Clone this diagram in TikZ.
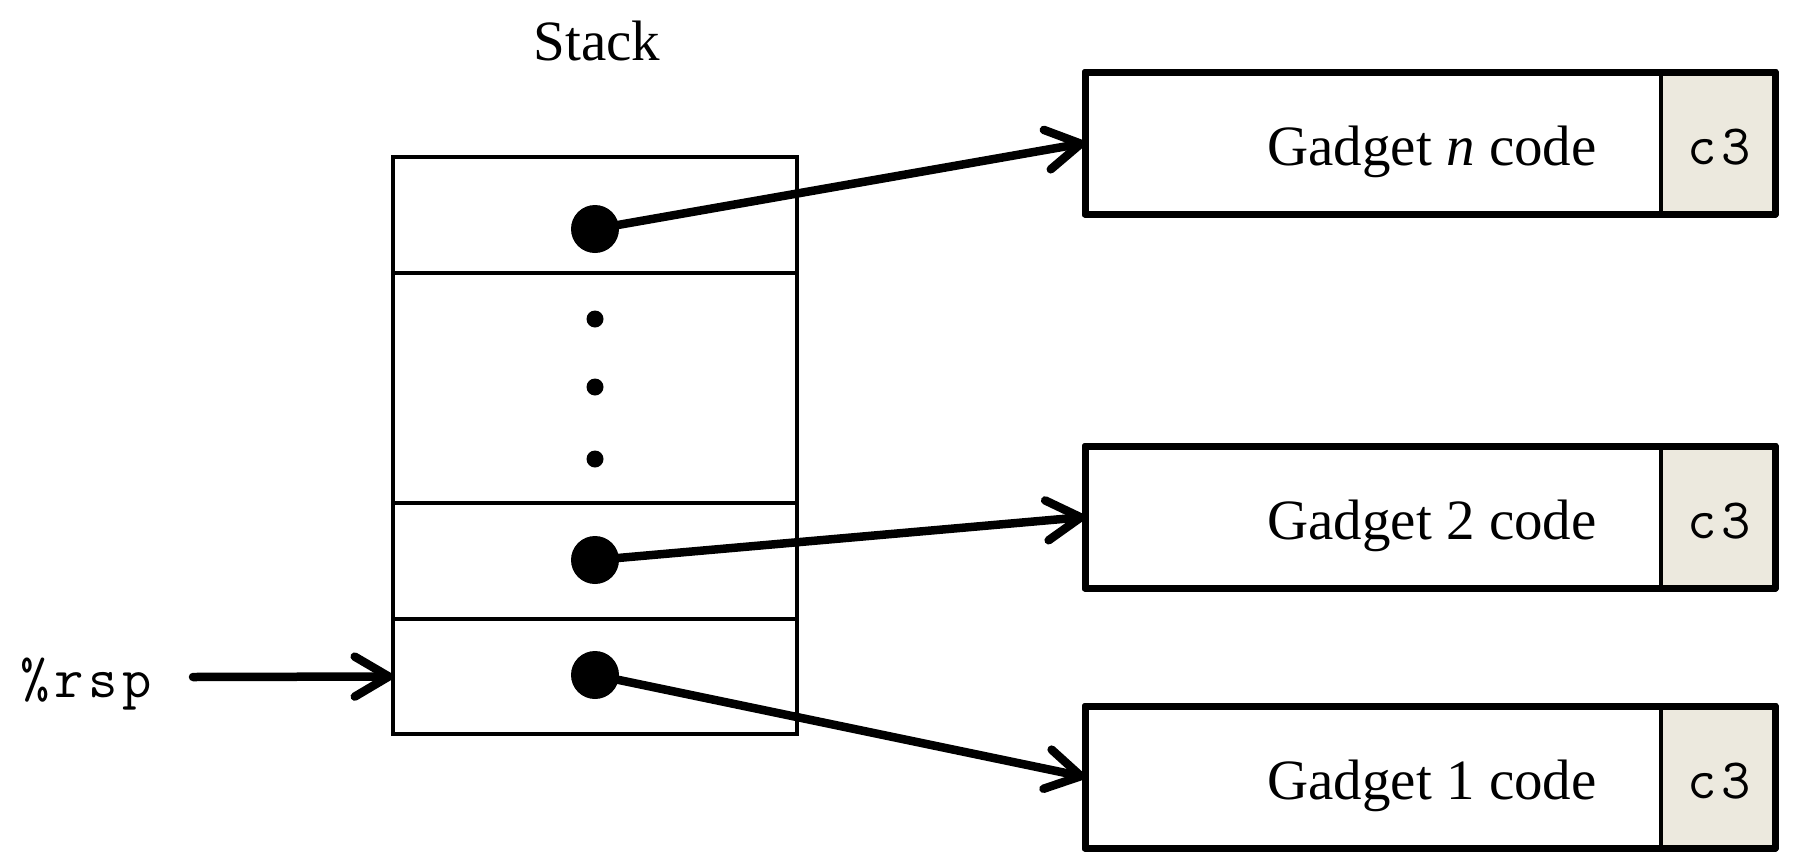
\documentclass[tikz,border=0pt]{standalone}
\usepackage{fontspec}
\setmainfont{Liberation Serif}
\usetikzlibrary{arrows.meta}
\definecolor{cellgray}{RGB}{236,233,222}
\newcommand\mch[1]{\makebox[17pt]{#1}}
\tikzset{
  stackcell/.style={draw, line width=2pt, minimum width=202pt, inner sep=0pt, outer sep=0pt},
  gbox/.style={draw, fill=white, line width=3.5pt, line join=round, minimum width=345pt, minimum height=71pt, inner sep=0pt, outer sep=0pt},
  gborder/.style={draw, line width=3.5pt, line join=round},
  ccell/.style={fill=cellgray, minimum width=57pt, minimum height=71pt, inner sep=0pt, outer sep=0pt},
  divline/.style={line width=2.25pt},
  bigdot/.style={circle, fill=black, minimum size=24pt, inner sep=0pt},
  smalldot/.style={circle, fill=black, minimum size=8.5pt, inner sep=0pt},
  ptr/.style={line width=4.25pt, line cap=round, -{Straight Barb[length=17pt, width=20pt, line cap=round, line join=round]}},
  serif/.style={font=\fontsize{28.5pt}{34pt}\selectfont, inner sep=0pt},
  mono/.style={font=\fontsize{28.5pt}{34pt}\selectfont\ttfamily, inner sep=0pt},
}
\begin{document}
\begin{tikzpicture}[x=0.5pt, y=-0.5pt]
\useasboundingbox (0,0) rectangle (1798,867);

% title
\node[serif, anchor=base] (title) at (597,60) {Stack};

% stack cells
\node[stackcell, minimum height=58pt]  (s4) at (595,215) {};
\node[stackcell, minimum height=115pt] (sd) at (595,388) {};
\node[stackcell, minimum height=58pt]  (s2) at (595,561) {};
\node[stackcell, minimum height=57.5pt] (s1) at (595,676.5) {};

% ellipsis dots
\node[smalldot] (e1) at (595,319) {};
\node[smalldot] (e2) at (595,387) {};
\node[smalldot] (e3) at (595,459) {};

% gadget boxes
\foreach \nm/\y in {gn/143, g2/517, g1/777}{
  \node[gbox] (\nm) at (1430,\y) {};
  \node[ccell, anchor=east] (\nm c) at (\nm.east) {};
  \draw[divline] (\nm c.north west) -- (\nm c.south west);
  \draw[gborder] (\nm.north west) rectangle (\nm.south east);
}
\node[serif, anchor=base east] (tn) at (1597,165) {Gadget \textit{n} code};
\node[serif, anchor=base east] (t2) at (1597,539) {Gadget 2 code};
\node[serif, anchor=base east] (t1) at (1597,799) {Gadget 1 code};
\node[mono, anchor=base] (cn) at (1719,164) {\mch{c}\mch{3}};
\node[mono, anchor=base] (c2) at (1719,538) {\mch{c}\mch{3}};
\node[mono, anchor=base] (c1) at (1719,798) {\mch{c}\mch{3}};

% pointer dots
\node[bigdot] (dn) at (595,229) {};
\node[bigdot] (d2) at (595,560) {};
\node[bigdot] (d1) at (595,675) {};

\draw[ptr] (dn.center) -- (gn.west);
\draw[ptr] (d2.center) -- (g2.west);
\draw[ptr] (d1.center) -- (g1.west);

% rsp
\node[mono, anchor=base west] (rsp) at (18,697) {\mch{\%}\mch{r}\mch{s}\mch{p}};
\coordinate (rspstart) at (193,677);
\draw[ptr] (rspstart) -- (s1.west);
\end{tikzpicture}
\end{document}
